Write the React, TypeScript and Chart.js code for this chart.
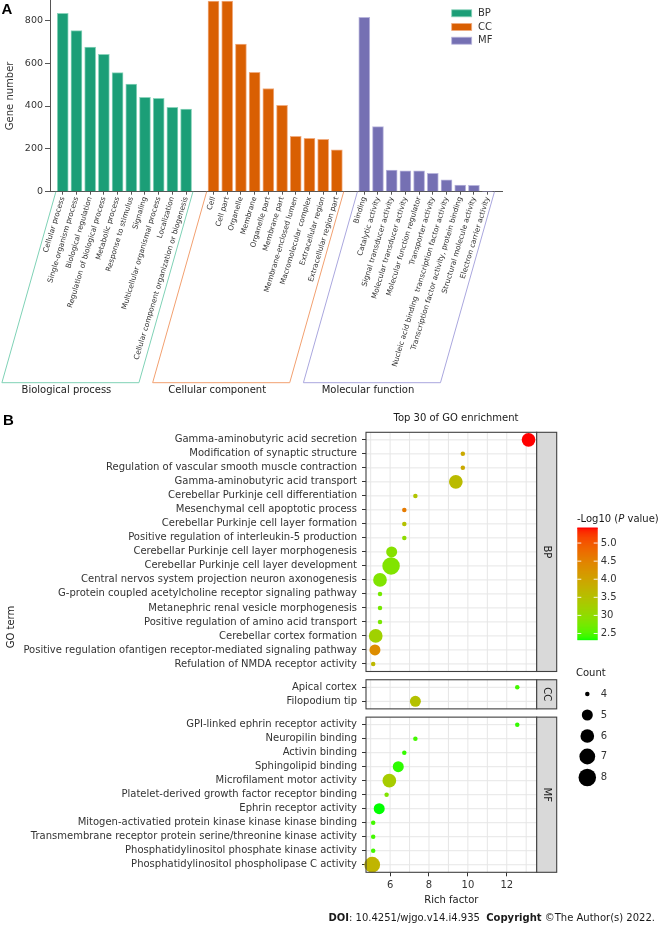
import React, { useEffect, useRef } from "react";
import { Chart, registerables } from "chart.js";

Chart.register(...registerables);

const FONT = "'DejaVu Sans', Verdana, sans-serif";
const LETTER_FONT = "'Liberation Sans', Arial, sans-serif";

// ---------------- Panel A data ----------------
const bpCategories = [
  "Cellular process",
  "Single-organism process",
  "Biological regulation",
  "Regulation of biological process",
  "Metabolic process",
  "Response to stimulus",
  "Signaling",
  "Multicellular organismal process",
  "Localization",
  "Cellular component organization or biogenesis",
];
const bpGeneNumbers = [833, 752, 675, 641, 556, 503, 441, 436, 394, 386];

const ccCategories = [
  "Cell",
  "Cell part",
  "Organelle",
  "Membrane",
  "Organelle part",
  "Membrane part",
  "Membrane-enclosed lumen",
  "Macromolecular complex",
  "Extracellular region",
  "Extracellular region part",
];
const ccGeneNumbers = [890, 890, 689, 557, 482, 403, 258, 249, 244, 195];

const mfCategories = [
  "Binding",
  "Catalytic activity",
  "Signal transducer activity",
  "Molecular transducer activity",
  "Molecular function regulator",
  "Transporter activity",
  "Nucleic acid binding  transcription factor activity",
  "Transcription factor activity, protein binding",
  "Structural molecule activity",
  "Electron carrier activity",
];
const mfGeneNumbers = [814, 304, 101, 97, 97, 86, 55, 31, 30, 1];

const geneNumberTicks = [0, 200, 400, 600, 800];
const geneNumberMax = 895;

// ---------------- Panel B data ----------------
const bpTerms = [
  "Gamma-aminobutyric acid secretion",
  "Modification of synaptic structure",
  "Regulation of vascular smooth muscle contraction",
  "Gamma-aminobutyric acid transport",
  "Cerebellar Purkinje cell differentiation",
  "Mesenchymal cell apoptotic process",
  "Cerebellar Purkinje cell layer formation",
  "Positive regulation of interleukin-5 production",
  "Cerebellar Purkinje cell layer morphogenesis",
  "Cerebellar Purkinje cell layer development",
  "Central nervos system projection neuron axonogenesis",
  "G-protein coupled acetylcholine receptor signaling pathway",
  "Metanephric renal vesicle morphogenesis",
  "Positive regulation of amino acid transport",
  "Cerebellar cortex formation",
  "Positive regulation ofantigen receptor-mediated signaling pathway",
  "Refulation of NMDA receptor activity",
];
const bpRichFactor = [13.12, 9.74, 9.74, 9.38, 7.3, 6.73, 6.73, 6.73, 6.08, 6.05, 5.48, 5.48, 5.48, 5.48, 5.26, 5.22, 5.13];
const bpLogP = [5.43, 3.9, 3.9, 3.6, 3.45, 4.6, 3.5, 3.0, 2.9, 2.85, 2.85, 2.75, 2.75, 2.78, 3.2, 4.35, 3.65];
const bpCount = [6, 4, 4, 6, 4, 4, 4, 4, 5, 8, 6, 4, 4, 4, 6, 5, 4];

const ccTerms = ["Apical cortex", "Filopodium tip"];
const ccRichFactor = [12.54, 7.3];
const ccLogP = [2.45, 3.5];
const ccCount = [4, 5];

const mfTerms = [
  "GPI-linked ephrin receptor activity",
  "Neuropilin binding",
  "Activin binding",
  "Sphingolipid binding",
  "Microfilament motor activity",
  "Platelet-derived growth factor receptor binding",
  "Ephrin receptor activity",
  "Mitogen-activatied protein kinase kinase kinase binding",
  "Transmembrane receptor protein serine/threonine kinase activity",
  "Phosphatidylinositol phosphate kinase activity",
  "Phosphatidylinositol phospholipase C activity",
];
const mfRichFactor = [12.54, 7.3, 6.73, 6.42, 5.96, 5.82, 5.44, 5.13, 5.13, 5.13, 5.08];
const mfLogP = [2.4, 2.45, 2.4, 2.38, 3.3, 2.85, 2.32, 2.45, 2.45, 2.45, 3.7];
const mfCount = [4, 4, 4, 5, 6, 4, 5, 4, 4, 4, 7];

const richFactorTicks = [6, 8, 10, 12];
const richFactorGrid = [5, 6, 7, 8, 9, 10, 11, 12, 13];
const colorBarTicks = [2.5, 3.0, 3.5, 4.0, 4.5, 5.0];
const colorBarTickLabels = ["2.5", "30", "3.5", "4.0", "4.5", "5.0"];
const countLegend = [4, 5, 6, 7, 8];

// ---------------- colour helpers (Lab interpolation, like ggplot) ----------------
const Xn = 0.95047, Yn = 1.0, Zn = 1.08883;
function toLin(c: number) {
  c /= 255;
  return c <= 0.04045 ? c / 12.92 : Math.pow((c + 0.055) / 1.055, 2.4);
}
function fromLin(c: number) {
  const v = c <= 0.0031308 ? 12.92 * c : 1.055 * Math.pow(Math.max(c, 0), 1 / 2.4) - 0.055;
  return Math.round(Math.max(0, Math.min(1, v)) * 255);
}
function fLab(t: number) {
  return t > 0.008856 ? Math.cbrt(t) : 7.787 * t + 16 / 116;
}
function fInv(t: number) {
  return t > 0.206893 ? t * t * t : (t - 16 / 116) / 7.787;
}
function hexToLab(h: string) {
  const r = toLin(parseInt(h.slice(1, 3), 16));
  const g = toLin(parseInt(h.slice(3, 5), 16));
  const b = toLin(parseInt(h.slice(5, 7), 16));
  const X = (0.4124 * r + 0.3576 * g + 0.1805 * b) / Xn;
  const Y = (0.2126 * r + 0.7152 * g + 0.0722 * b) / Yn;
  const Z = (0.0193 * r + 0.1192 * g + 0.9505 * b) / Zn;
  const fx = fLab(X), fy = fLab(Y), fz = fLab(Z);
  return [116 * fy - 16, 500 * (fx - fy), 200 * (fy - fz)];
}
function labToCss(L: number, a: number, b: number) {
  const fy = (L + 16) / 116, fx = fy + a / 500, fz = fy - b / 200;
  const X = Xn * fInv(fx), Y = Yn * fInv(fy), Z = Zn * fInv(fz);
  const R = 3.2406 * X - 1.5372 * Y - 0.4986 * Z;
  const G = -0.9689 * X + 1.8758 * Y + 0.0415 * Z;
  const B = 0.0557 * X - 0.204 * Y + 1.057 * Z;
  return `rgb(${fromLin(R)},${fromLin(G)},${fromLin(B)})`;
}
const LOW_LAB = hexToLab("#00FF00");
const HIGH_LAB = hexToLab("#FF0000");
function gradient(v: number, lo: number, hi: number) {
  const t = Math.max(0, Math.min(1, (v - lo) / (hi - lo)));
  return labToCss(
    LOW_LAB[0] + (HIGH_LAB[0] - LOW_LAB[0]) * t,
    LOW_LAB[1] + (HIGH_LAB[1] - LOW_LAB[1]) * t,
    LOW_LAB[2] + (HIGH_LAB[2] - LOW_LAB[2]) * t
  );
}

// ---------------- Panel A ----------------
function PanelA() {
  const ref = useRef<HTMLCanvasElement | null>(null);
  useEffect(() => {
    if (!ref.current) return;
    const groups = [
      { code: "BP", name: "Biological process", cats: bpCategories, vals: bpGeneNumbers, fill: "#1B9E77", edge: "#8ad3bb", bracket: "#7fd2b6" },
      { code: "CC", name: "Cellular component", cats: ccCategories, vals: ccGeneNumbers, fill: "#D95F02", edge: "#f0ac80", bracket: "#f2a070" },
      { code: "MF", name: "Molecular function", cats: mfCategories, vals: mfGeneNumbers, fill: "#7570B3", edge: "#b8b5dc", bracket: "#aaa7de" },
    ];
    const slotOf = (gi: number, i: number) => gi * 11 + i;
    const tickVals: number[] = [];
    const tickLabels: string[] = [];
    groups.forEach((g, gi) =>
      g.cats.forEach((c, i) => {
        tickVals.push(slotOf(gi, i));
        tickLabels.push(c);
      })
    );

    const plugin = {
      id: "panelAExtras",
      afterDraw(chart: any) {
        const { ctx, chartArea } = chart;
        const x = chart.scales.x;
        const top = chartArea.bottom;
        const bottom = 382.7;
        const shift = 54;
        ctx.save();
        groups.forEach((g, gi) => {
          const x0 = x.getPixelForValue(slotOf(gi, 0) - 0.5);
          const x1 = x.getPixelForValue(slotOf(gi, g.cats.length - 1) + 0.5);
          ctx.strokeStyle = g.bracket;
          ctx.lineWidth = 1;
          ctx.beginPath();
          ctx.moveTo(x0, top);
          ctx.lineTo(x0 - shift, bottom);
          ctx.lineTo(x1 - shift, bottom);
          ctx.lineTo(x1, top);
          ctx.stroke();
          ctx.fillStyle = "#222";
          ctx.font = `10px ${FONT}`;
          ctx.textAlign = "center";
          ctx.textBaseline = "middle";
          ctx.fillText(g.name, (x0 + x1) / 2 - shift - 4, bottom + 8);
        });
        // legend
        groups.forEach((g, gi) => {
          const cy = 13.3 + gi * 13.7;
          ctx.fillStyle = g.fill;
          ctx.fillRect(451.7, cy - 3.5, 20, 7);
          ctx.strokeStyle = g.edge;
          ctx.lineWidth = 0.8;
          ctx.strokeRect(451.7, cy - 3.5, 20, 7);
          ctx.fillStyle = "#333";
          ctx.font = `10px ${FONT}`;
          ctx.textAlign = "left";
          ctx.textBaseline = "middle";
          ctx.fillText(g.code, 478, cy);
        });
        // y title
        ctx.save();
        ctx.translate(10, (chartArea.top + chartArea.bottom) / 2);
        ctx.rotate(-Math.PI / 2);
        ctx.fillStyle = "#333";
        ctx.font = `10px ${FONT}`;
        ctx.textAlign = "center";
        ctx.textBaseline = "middle";
        ctx.fillText("Gene number", 0, 0);
        ctx.restore();
        // panel letter
        ctx.fillStyle = "#000";
        ctx.font = `bold 15px ${LETTER_FONT}`;
        ctx.textAlign = "left";
        ctx.textBaseline = "middle";
        ctx.fillText("A", 1.5, 10);
        ctx.restore();
      },
    };

    const chart = new Chart(ref.current, {
      type: "bar",
      data: {
        datasets: groups.map((g, gi) => ({
          label: g.code,
          data: g.vals.map((v, i) => ({ x: slotOf(gi, i), y: v })),
          backgroundColor: g.fill,
          borderColor: g.edge,
          borderWidth: 1,
          barThickness: 11,
          grouped: false,
        })),
      } as any,
      options: {
        responsive: false,
        animation: false,
        layout: { padding: { left: 0, top: 0, right: 662 - 502.7, bottom: 0 } },
        plugins: { legend: { display: false }, tooltip: { enabled: false } },
        scales: {
          x: {
            type: "linear",
            min: -0.93,
            max: 32.1,
            bounds: "data",
            offset: false,
            afterBuildTicks: (s: any) => {
              s.ticks = tickVals.map((v) => ({ value: v }));
            },
            afterFit: (s: any) => {
              s.height = 400 - 191.7;
              s.paddingLeft = 0;
              s.paddingRight = 0;
            },
            ticks: {
              autoSkip: false,
              minRotation: 73,
              maxRotation: 73,
              padding: 1,
              color: "#333",
              font: { family: FONT, size: 7.3 },
              callback: (_v: any, i: number) => tickLabels[i],
            },
            grid: { drawOnChartArea: false, drawTicks: true, tickLength: 3, color: "#555", offset: false },
            border: { display: true, color: "#555", width: 1 },
          },
          y: {
            type: "linear",
            min: 0,
            max: geneNumberMax,
            bounds: "data",
            afterBuildTicks: (s: any) => {
              s.ticks = geneNumberTicks.map((v) => ({ value: v }));
            },
            afterFit: (s: any) => {
              s.width = 50;
              s.paddingTop = 0;
              s.paddingBottom = 0;
            },
            ticks: { padding: 2, color: "#333", font: { family: FONT, size: 9.5 } },
            grid: { drawOnChartArea: false, tickLength: 5, color: "#555" },
            border: { display: true, color: "#555", width: 1 },
          },
        },
      } as any,
      plugins: [plugin],
    });
    return () => chart.destroy();
  }, []);
  return <canvas ref={ref} width={662} height={400} style={{ position: "absolute", left: 0, top: 0 }} />;
}

// ---------------- Panel B ----------------
function PanelB() {
  const ref = useRef<HTMLCanvasElement | null>(null);
  useEffect(() => {
    if (!ref.current) return;
    const OFF = 400; // canvas top in page coordinates
    const groups = [
      { code: "BP", terms: bpTerms, rich: bpRichFactor, logp: bpLogP, count: bpCount },
      { code: "CC", terms: ccTerms, rich: ccRichFactor, logp: ccLogP, count: ccCount },
      { code: "MF", terms: mfTerms, rich: mfRichFactor, logp: mfLogP, count: mfCount },
    ];
    const PAD = 0.54;
    const GAP = 0.59;
    let cursor = 0;
    const panels = groups.map((g) => {
      const start = cursor;
      const end = start + g.terms.length - 1 + 2 * PAD;
      cursor = end + GAP;
      return { ...g, start, end, rows: g.terms.map((_, i) => start + PAD + i) };
    });
    const yMax = panels[panels.length - 1].end;

    const allLogP = [...bpLogP, ...ccLogP, ...mfLogP];
    const lo = Math.min(...allLogP);
    const hi = Math.max(...allLogP);
    const allCount = [...bpCount, ...ccCount, ...mfCount];
    const cMin = Math.min(...allCount);
    const cMax = Math.max(...allCount);
    const radius = (c: number) => 0.95 + 1.3 * (1 + 5 * Math.sqrt((c - cMin) / (cMax - cMin)));

    const yTicks = panels
      .flatMap((p) => p.rows.map((v, i) => ({ value: v, label: p.terms[i] })))
      .sort((a, b) => a.value - b.value);

    const plugin = {
      id: "panelBExtras",
      beforeDatasetsDraw(chart: any) {
        const { ctx, chartArea } = chart;
        const x = chart.scales.x;
        const y = chart.scales.y;
        ctx.save();
        panels.forEach((p) => {
          const t = y.getPixelForValue(p.start);
          const b = y.getPixelForValue(p.end);
          ctx.fillStyle = "#fff";
          ctx.fillRect(chartArea.left, t, chartArea.right - chartArea.left, b - t);
          ctx.strokeStyle = "#e6e6e6";
          ctx.lineWidth = 1;
          richFactorGrid.forEach((v) => {
            const xp = x.getPixelForValue(v);
            ctx.beginPath();
            ctx.moveTo(xp, t);
            ctx.lineTo(xp, b);
            ctx.stroke();
          });
          p.rows.forEach((r) => {
            const yp = y.getPixelForValue(r);
            ctx.beginPath();
            ctx.moveTo(chartArea.left, yp);
            ctx.lineTo(chartArea.right, yp);
            ctx.stroke();
          });
        });
        ctx.restore();
      },
      afterDatasetsDraw(chart: any) {
        const { ctx, chartArea } = chart;
        const y = chart.scales.y;
        const stripW = 20;
        ctx.save();
        panels.forEach((p) => {
          const t = y.getPixelForValue(p.start);
          const b = y.getPixelForValue(p.end);
          ctx.strokeStyle = "#404040";
          ctx.lineWidth = 1.1;
          ctx.strokeRect(chartArea.left, t, chartArea.right - chartArea.left, b - t);
          ctx.fillStyle = "#d9d9d9";
          ctx.fillRect(chartArea.right, t, stripW, b - t);
          ctx.strokeRect(chartArea.right, t, stripW, b - t);
          ctx.save();
          ctx.translate(chartArea.right + stripW / 2, (t + b) / 2);
          ctx.rotate(Math.PI / 2);
          ctx.fillStyle = "#1a1a1a";
          ctx.font = `10px ${FONT}`;
          ctx.textAlign = "center";
          ctx.textBaseline = "middle";
          ctx.fillText(p.code, 0, 0);
          ctx.restore();
        });
        ctx.restore();
      },
      afterDraw(chart: any) {
        const { ctx, chartArea } = chart;
        ctx.save();
        ctx.fillStyle = "#1a1a1a";
        ctx.font = `10px ${FONT}`;
        ctx.textAlign = "center";
        ctx.textBaseline = "middle";
        // title
        ctx.fillText("Top 30 of GO enrichment", 456, 418.3 - OFF);
        // x title
        ctx.fillText("Rich factor", (chartArea.left + chartArea.right) / 2, 900 - OFF);
        // y title
        ctx.save();
        ctx.translate(11, 627 - OFF);
        ctx.rotate(-Math.PI / 2);
        ctx.fillText("GO term", 0, 0);
        ctx.restore();

        // colour legend
        const cbL = 577.3, cbR = 597.7, cbT = 527.5 - OFF, cbB = 640 - OFF;
        ctx.textAlign = "left";
        let tx = 577;
        const ty = 519 - OFF;
        const parts: [string, boolean][] = [["-Log10 (", false], ["P", true], [" value)", false]];
        parts.forEach(([s, it]) => {
          ctx.font = `${it ? "italic " : ""}10px ${FONT}`;
          ctx.fillText(s, tx, ty);
          tx += ctx.measureText(s).width;
        });
        const steps = Math.ceil(cbB - cbT);
        for (let k = 0; k < steps; k++) {
          const yy = cbB - k - 1;
          const v = lo + ((cbB - (yy + 0.5)) / (cbB - cbT)) * (hi - lo);
          ctx.fillStyle = gradient(v, lo, hi);
          ctx.fillRect(cbL, Math.max(yy, cbT), cbR - cbL, 1.2);
        }
        ctx.font = `10px ${FONT}`;
        colorBarTicks.forEach((v, i) => {
          const yy = cbB - ((v - lo) / (hi - lo)) * (cbB - cbT);
          ctx.strokeStyle = "rgba(255,255,255,0.9)";
          ctx.lineWidth = 1;
          ctx.beginPath();
          ctx.moveTo(cbL, yy);
          ctx.lineTo(cbL + 4, yy);
          ctx.moveTo(cbR - 4, yy);
          ctx.lineTo(cbR, yy);
          ctx.stroke();
          ctx.fillStyle = "#333";
          ctx.fillText(colorBarTickLabels[i], 600.7, yy);
        });

        // size legend
        ctx.fillStyle = "#1a1a1a";
        ctx.fillText("Count", 576, 673.3 - OFF);
        const legY = [694, 715, 736, 756.5, 777.5];
        countLegend.forEach((c, i) => {
          const yy = legY[i] - OFF;
          ctx.fillStyle = "#000";
          ctx.beginPath();
          ctx.arc(587.3, yy, radius(c), 0, Math.PI * 2);
          ctx.fill();
          ctx.fillStyle = "#333";
          ctx.fillText(String(c), 600.7, yy);
        });

        // panel letter
        ctx.fillStyle = "#000";
        ctx.font = `bold 15px ${LETTER_FONT}`;
        ctx.fillText("B", 3, 420.5 - OFF);

        // DOI line
        const doi: [string, boolean][] = [
          ["DOI", true],
          [": 10.4251/wjgo.v14.i4.935  ", false],
          ["Copyright", true],
          [" ©The Author(s) 2022.", false],
        ];
        let total = 0;
        doi.forEach(([s, b]) => {
          ctx.font = `${b ? "bold " : ""}10px ${FONT}`;
          total += ctx.measureText(s).width;
        });
        let dx = 655 - total;
        ctx.fillStyle = "#1a1a1a";
        doi.forEach(([s, b]) => {
          ctx.font = `${b ? "bold " : ""}10px ${FONT}`;
          ctx.fillText(s, dx, 918.7 - OFF);
          dx += ctx.measureText(s).width;
        });
        ctx.restore();
      },
    };

    const chart = new Chart(ref.current, {
      type: "bubble",
      data: {
        datasets: panels.map((p) => ({
          label: p.code,
          data: p.rich.map((r, i) => ({ x: r, y: p.rows[i], r: radius(p.count[i]) })),
          backgroundColor: p.logp.map((v) => gradient(v, lo, hi)),
          borderWidth: 0,
          clip: false,
        })),
      } as any,
      options: {
        responsive: false,
        animation: false,
        layout: { padding: { left: 0, top: 432.3 - OFF, right: 662 - 536.7, bottom: 0 } },
        plugins: { legend: { display: false }, tooltip: { enabled: false } },
        scales: {
          x: {
            type: "linear",
            min: 4.76,
            max: 13.54,
            bounds: "data",
            afterBuildTicks: (s: any) => {
              s.ticks = richFactorTicks.map((v) => ({ value: v }));
            },
            afterFit: (s: any) => {
              s.height = 526 - (872.3 - OFF);
              s.paddingLeft = 0;
              s.paddingRight = 0;
            },
            ticks: { autoSkip: false, maxRotation: 0, padding: 3, color: "#333", font: { family: FONT, size: 10 } },
            grid: { drawOnChartArea: false, tickLength: 4, color: "#333" },
            border: { display: false },
          },
          y: {
            type: "linear",
            reverse: true,
            min: 0,
            max: yMax,
            bounds: "data",
            afterBuildTicks: (s: any) => {
              s.ticks = yTicks.map((t) => ({ value: t.value }));
            },
            afterFit: (s: any) => {
              s.width = 366;
              s.paddingTop = 0;
              s.paddingBottom = 0;
            },
            ticks: {
              autoSkip: false,
              padding: 5,
              color: "#333",
              font: { family: FONT, size: 10 },
              callback: (_v: any, i: number) => yTicks[i].label,
            },
            grid: { drawOnChartArea: false, tickLength: 4, color: "#333" },
            border: { display: false },
          },
        },
      } as any,
      plugins: [plugin],
    });
    return () => chart.destroy();
  }, []);
  return <canvas ref={ref} width={662} height={526} style={{ position: "absolute", left: 0, top: 400 }} />;
}

export default function App() {
  return (
    <div style={{ position: "absolute", left: 0, top: 0, width: 662, height: 926, background: "#fff", overflow: "hidden" }}>
      <PanelA />
      <PanelB />
    </div>
  );
}
